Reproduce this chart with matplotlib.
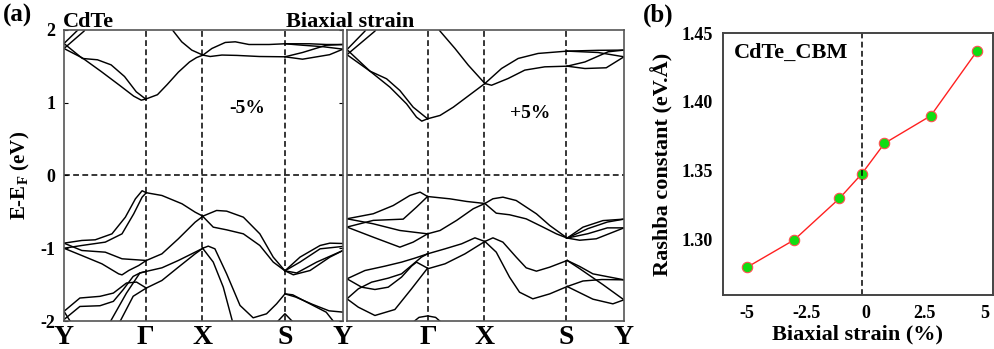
import matplotlib
matplotlib.use("Agg")
import matplotlib.pyplot as plt

plt.rcParams['font.family'] = ['Liberation Serif', 'DejaVu Serif']
plt.rcParams['font.weight'] = 'bold'
plt.rcParams['axes.unicode_minus'] = False

# high-symmetry points along the path (fraction of path length)
kpts = [0.0, 0.293, 0.496, 0.792, 1.0]
klabels = ['Y', '\u0393', 'X', 'S', 'Y']

# band lines, (k, E) pairs, -5% strain
bands_m5 = [
    # conduction
    [(0, 1.814), (0.05, 2.0), (0.06, 2.05)],
    [(0, 1.745), (0.072, 1.984), (0.08, 2.05)],
    [(0, 1.814), (0.066, 1.608), (0.12, 1.59), (0.169, 1.52), (0.217, 1.36), (0.259, 1.15), (0.293, 1.05)],
    [(0, 1.745), (0.066, 1.615), (0.133, 1.43), (0.199, 1.24), (0.25, 1.09), (0.277, 1.035), (0.293, 1.05)],
    [(0.293, 1.05), (0.335, 1.11), (0.37, 1.25), (0.41, 1.42), (0.45, 1.56), (0.475, 1.62), (0.498, 1.654)],
    [(0.38, 2.05), (0.392, 1.984), (0.422, 1.837), (0.458, 1.723), (0.498, 1.654)],
    [(0.498, 1.654), (0.53, 1.745), (0.578, 1.828), (0.614, 1.837), (0.663, 1.80), (0.735, 1.80), (0.792, 1.81)],
    [(0.498, 1.654), (0.524, 1.635), (0.566, 1.655), (0.62, 1.65), (0.70, 1.635), (0.792, 1.631)],
    [(0.792, 1.81), (0.88, 1.81), (0.94, 1.80), (1.0, 1.80)],
    [(0.792, 1.81), (0.855, 1.79), (0.928, 1.77), (1.0, 1.736)],
    [(0.792, 1.631), (0.855, 1.69), (0.94, 1.79), (1.0, 1.80)],
    [(0.792, 1.631), (0.855, 1.598), (0.952, 1.66), (1.0, 1.736)],
    # valence
    [(0, -0.93), (0.064, -0.893), (0.112, -0.884), (0.172, -0.802), (0.22, -0.573), (0.256, -0.321), (0.28, -0.21), (0.295, -0.237)],
    [(0, -1.0), (0.064, -0.962), (0.148, -0.916), (0.208, -0.802), (0.25, -0.527), (0.28, -0.298), (0.295, -0.237)],
    [(0.295, -0.237), (0.351, -0.275), (0.423, -0.389), (0.47, -0.504), (0.498, -0.56)],
    [(0, -1.0), (0.064, -1.10), (0.136, -1.214), (0.196, -1.352), (0.208, -1.366), (0.232, -1.306), (0.268, -1.237), (0.295, -1.168)],
    [(0, -0.93), (0.064, -1.031), (0.148, -1.054), (0.208, -1.145), (0.295, -1.168)],
    [(0.295, -1.168), (0.351, -1.077), (0.41, -0.87), (0.47, -0.642), (0.498, -0.56)],
    [(0.295, -1.318), (0.351, -1.269), (0.41, -1.168), (0.47, -1.054), (0.498, -1.0)],
    [(0.295, -1.547), (0.351, -1.443), (0.41, -1.26), (0.47, -1.077), (0.498, -1.0)],
    [(0, -1.867), (0.057, -1.684), (0.129, -1.661), (0.177, -1.616), (0.224, -1.478), (0.26, -1.465), (0.295, -1.547)],
    [(0, -1.98), (0.057, -1.80), (0.129, -1.79), (0.177, -1.73), (0.212, -1.57), (0.248, -1.387), (0.272, -1.34), (0.295, -1.318)],
    [(0.16, -2.05), (0.224, -1.616), (0.272, -1.34), (0.295, -1.318)],
    [(0.195, -2.05), (0.248, -1.66), (0.295, -1.547)],
    [(0, -1.867), (0.03, -2.05)],
    [(0.497, -0.56), (0.547, -0.481), (0.583, -0.49), (0.643, -0.573), (0.702, -0.802), (0.75, -1.122), (0.792, -1.31)],
    [(0.497, -0.56), (0.535, -0.71), (0.583, -0.747), (0.643, -0.802), (0.702, -0.962), (0.75, -1.19), (0.792, -1.31)],
    [(0.792, -1.31), (0.846, -1.122), (0.918, -0.962), (0.953, -0.93), (1.0, -0.935)],
    [(0.792, -1.31), (0.846, -1.19), (0.918, -1.008), (1.0, -0.975)],
    [(0.792, -1.31), (0.822, -1.365), (0.882, -1.306), (0.953, -1.122), (1.0, -1.031)],
    [(0.792, -1.31), (0.834, -1.34), (0.906, -1.19), (1.0, -1.031)],
    [(0.497, -1.0), (0.535, -1.19), (0.571, -1.535), (0.607, -2.05)],
    [(0.497, -1.0), (0.517, -0.971), (0.541, -1.008), (0.583, -1.352), (0.631, -1.786), (0.678, -1.956),
     (0.726, -1.901), (0.762, -1.764), (0.792, -1.627)],
    [(0.792, -1.627), (0.82, -1.64), (0.87, -1.741), (0.94, -1.879), (0.975, -2.05)],
    [(0.792, -1.627), (0.83, -1.67), (0.89, -1.77), (0.95, -1.86), (1.0, -1.878)],
    [(0.755, -2.05), (0.792, -1.9), (0.83, -2.05)],
]

# +5% strain
bands_p5 = [
    # conduction
    [(0, 1.73), (0.065, 1.984), (0.075, 2.05)],
    [(0, 1.66), (0.101, 1.984), (0.11, 2.05)],
    [(0, 1.73), (0.083, 1.434), (0.143, 1.329), (0.191, 1.168), (0.239, 0.939), (0.291, 0.779)],
    [(0, 1.66), (0.083, 1.434), (0.155, 1.214), (0.215, 0.985), (0.251, 0.802), (0.27, 0.747), (0.291, 0.779)],
    [(0.291, 0.779), (0.336, 0.825), (0.384, 0.939), (0.432, 1.076), (0.498, 1.264)],
    [(0.325, 2.05), (0.336, 1.984), (0.39, 1.745), (0.438, 1.516), (0.498, 1.264)],
    [(0.498, 1.264), (0.558, 1.47), (0.618, 1.608), (0.69, 1.677), (0.795, 1.709)],
    [(0.498, 1.264), (0.522, 1.24), (0.582, 1.333), (0.642, 1.448), (0.714, 1.493), (0.795, 1.502)],
    [(0.795, 1.709), (0.907, 1.72), (1.0, 1.723)],
    [(0.795, 1.709), (0.907, 1.69), (1.0, 1.631)],
    [(0.795, 1.502), (0.859, 1.56), (0.943, 1.70), (1.0, 1.723)],
    [(0.795, 1.502), (0.859, 1.47), (0.936, 1.48), (1.0, 1.631)],
    # valence
    [(0, -0.595), (0.095, -0.526), (0.167, -0.413), (0.227, -0.275), (0.264, -0.229), (0.291, -0.289)],
    [(0, -0.709), (0.095, -0.617), (0.203, -0.60), (0.251, -0.435), (0.291, -0.289)],
    [(0, -0.595), (0.095, -0.664), (0.191, -0.756), (0.291, -0.802)],
    [(0, -0.709), (0.095, -0.848), (0.191, -0.985), (0.239, -0.916), (0.291, -0.802)],
    [(0.291, -0.289), (0.372, -0.321), (0.432, -0.357), (0.498, -0.385)],
    [(0.291, -0.802), (0.336, -0.756), (0.396, -0.617), (0.456, -0.457), (0.498, -0.385)],
    [(0.291, -1.077), (0.354, -1.008), (0.414, -0.939), (0.462, -0.857), (0.498, -0.907)],
    [(0.291, -1.283), (0.354, -1.214), (0.426, -1.077), (0.498, -0.907)],
    [(0, -1.42), (0.065, -1.306), (0.137, -1.246), (0.197, -1.191), (0.245, -1.136), (0.291, -1.077)],
    [(0, -1.695), (0.041, -1.558), (0.089, -1.466), (0.149, -1.411), (0.197, -1.352), (0.233, -1.237),
     (0.269, -1.122), (0.291, -1.077)],
    [(0, -1.42), (0.053, -1.535), (0.101, -1.567), (0.149, -1.535), (0.197, -1.397), (0.233, -1.246),
     (0.251, -1.191), (0.291, -1.274)],
    [(0, -1.695), (0.041, -1.81), (0.101, -1.924), (0.173, -1.842), (0.233, -1.558), (0.291, -1.274)],
    [(0.228, -2.05), (0.26, -1.95), (0.291, -1.93), (0.32, -1.95), (0.35, -2.05)],
    [(0.498, -0.385), (0.527, -0.32), (0.563, -0.298), (0.611, -0.344), (0.684, -0.527), (0.732, -0.687), (0.795, -0.86)],
    [(0.498, -0.385), (0.539, -0.518), (0.587, -0.54), (0.647, -0.596), (0.708, -0.71), (0.756, -0.802), (0.795, -0.86)],
    [(0.795, -0.86), (0.852, -0.71), (0.924, -0.62), (1.0, -0.60)],
    [(0.795, -0.86), (0.87, -0.73), (0.94, -0.64), (1.0, -0.60)],
    [(0.795, -0.86), (0.87, -0.80), (0.94, -0.72), (1.0, -0.72)],
    [(0.795, -0.86), (0.84, -0.89), (0.90, -0.87), (0.96, -0.78), (1.0, -0.72)],
    [(0.498, -0.907), (0.527, -0.857), (0.563, -0.916), (0.611, -1.122), (0.647, -1.269), (0.684, -1.315),
     (0.732, -1.26), (0.795, -1.168)],
    [(0.498, -0.907), (0.539, -1.054), (0.587, -1.398), (0.623, -1.604), (0.671, -1.695), (0.732, -1.627), (0.795, -1.526)],
    [(0.795, -1.168), (0.84, -1.25), (0.888, -1.352), (1.0, -1.434)],
    [(0.795, -1.168), (0.84, -1.28), (0.924, -1.50), (1.0, -1.709)],
    [(0.795, -1.526), (0.852, -1.45), (0.92, -1.43), (1.0, -1.434)],
    [(0.795, -1.526), (0.888, -1.70), (0.96, -1.764), (1.0, -1.709)],
]

# Rashba constant vs strain
strain = [-5, -3, -1.1, -0.15, 0.8, 2.75, 4.7]
rashba = [1.28, 1.30, 1.33, 1.348, 1.37, 1.39, 1.437]

fig = plt.figure(figsize=(9.95, 3.49), dpi=100)
axL = fig.add_axes([0.0643, 0.0802, 0.2804, 0.834])
axR = fig.add_axes([0.3487, 0.0802, 0.2784, 0.834])
axB = fig.add_axes([0.7266, 0.1547, 0.2714, 0.7507])

dash = (0, (3.8, 2.2))
for ax, bands, labs in [(axL, bands_m5, klabels), (axR, bands_p5, [''] + klabels[1:])]:
    for b in bands:
        ax.plot([p[0] for p in b], [p[1] for p in b], color='black', lw=1.05)
    for k in kpts[1:4]:
        ax.axvline(k, color='black', lw=1.1, ls=dash)
    ax.axhline(0, color='black', lw=1.1, ls=dash)
    ax.set_xlim(0, 1)
    ax.set_ylim(-2, 2)
    ax.set_xticks(kpts)
    ax.set_xticklabels(labs, fontsize=20, fontweight='bold')
    ax.tick_params(axis='x', length=0, pad=3)
    for s in ax.spines.values():
        s.set_color('#555555')
        s.set_linewidth(1.2)

axL.set_yticks([-2, -1, 0, 1, 2])
axL.set_yticklabels(['-2', '-1', '0', '1', '2'], fontsize=13, fontweight='bold')
axL.tick_params(axis='y', direction='in', length=3, right=True, pad=6)
axL.set_ylabel('E-E$_{\\mathregular{F}}$ (eV)', fontsize=15, fontweight='bold', labelpad=6)
axR.set_yticks([])

axL.text(0.656, 0.92, '-5%', fontsize=14, fontweight='bold', ha='center', va='center')
axR.text(0.66, 0.85, '+5%', fontsize=14, fontweight='bold', ha='center', va='center')

fig.text(0.003, 0.957, '(a)', fontsize=18, fontweight='bold', ha='left', va='center')
fig.text(0.0633, 0.938, 'CdTe', fontsize=16, fontweight='bold', ha='left', va='center')
fig.text(0.352, 0.938, 'Biaxial strain', fontsize=16, fontweight='bold', ha='center', va='center')
fig.text(0.646, 0.957, '(b)', fontsize=18, fontweight='bold', ha='left', va='center')

# panel b
axB.plot(strain, rashba, color='#ff2020', lw=1.0, marker='o', markersize=7.5,
         markerfacecolor='#11dd11', markeredgecolor='#ff5050', markeredgewidth=0.8)
axB.axvline(strain[3], color='black', lw=1.1, ls=dash)
axB.set_xlim(-6.0, 5.37)
axB.set_ylim(1.26, 1.45)
axB.set_xticks([-5, -2.5, 0, 2.5, 5])
axB.set_xticklabels(['-5', '-2.5', '0', '2.5', '5'], fontsize=13, fontweight='bold')
axB.set_yticks([1.30, 1.35, 1.40, 1.45])
axB.set_yticklabels(['1.30', '1.35', '1.40', '1.45'], fontsize=13, fontweight='bold')
axB.tick_params(length=0, pad=7)
axB.set_xlabel('Biaxial strain (%)', fontsize=16, fontweight='bold', labelpad=2)
axB.set_ylabel('Rashba constant (eV.\u00c5)', fontsize=16, fontweight='bold', labelpad=6)
axB.text(0.04, 0.924, 'CdTe_CBM', transform=axB.transAxes, fontsize=16, fontweight='bold',
         ha='left', va='center')
for s in axB.spines.values():
    s.set_color('#444444')
    s.set_linewidth(1.4)

fig.savefig('out.png', dpi=100)
